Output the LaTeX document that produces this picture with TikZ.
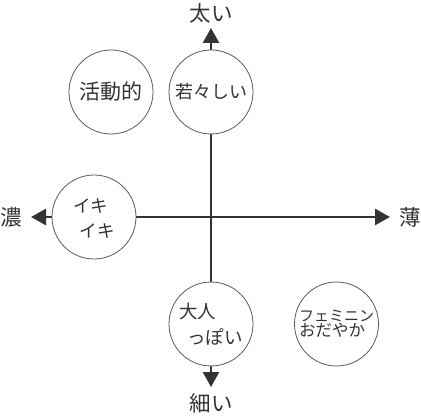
\documentclass[tikz,border=0pt]{standalone}
\usepackage{fontspec}
\setmainfont{Noto Sans CJK JP}
\usetikzlibrary{arrows.meta}
\definecolor{ink}{HTML}{333333}
\definecolor{ring}{HTML}{5A5A5A}
\begin{document}
\begin{tikzpicture}[x=1pt,y=-1pt,
  bubble/.style={circle,draw=ring,line width=0.8pt,fill=white,minimum size=84pt,inner sep=0pt},
  lbl/.style={text=ink,inner sep=0pt,align=left},
  axislbl/.style={text=ink,inner sep=0pt,font=\fontsize{21.5}{24}\selectfont},
  axis/.style={draw=ink,line width=2.6pt,{Triangle[width=16pt,length=15pt]}-{Triangle[width=16pt,length=15pt]}}]
\useasboundingbox (0,0) rectangle (421,417);
% axis ends
\coordinate (top) at (211,28);
\coordinate (bottom) at (211,387);
\coordinate (left) at (31,217);
\coordinate (right) at (390,217);
\draw[axis] (bottom) -- (top);
\draw[axis] (left) -- (right);
% axis labels
\node[axislbl] (futoi) at (211,13) {太い};
\node[axislbl] (hosoi) at (211,403) {細い};
\node[axislbl] (koi) at (11.5,217) {濃};
\node[axislbl] (usui) at (410,217) {薄};
% bubbles
\node[bubble] (katsu) at (111,92) {};
\node[bubble] (waka) at (211,92) {};
\node[bubble] (iki) at (94,217) {};
\node[bubble] (otona) at (211,324) {};
\node[bubble] (femi) at (336.5,324) {};
% bubble texts
\node[lbl,font=\fontsize{21}{24}\selectfont] (t1) at (katsu.center) {活動的};
\node[lbl,font=\fontsize{18}{24}\selectfont] (t2) at (waka.center) {若々しい};
\node[lbl,font=\fontsize{17.5}{25}\selectfont] (t3) at ([yshift=-1.5pt]iki.center) {イキ\\\hspace*{6pt}イキ};
\node[lbl,font=\fontsize{18.5}{26}\selectfont] (t4) at (otona.center) {大人\\\hspace*{8pt}っぽい};
\node[lbl] (t5) at (femi.center) {{\fontsize{15}{22}\selectfont フェミニン}\\{\fontsize{16.5}{22}\selectfont おだやか}};
\end{tikzpicture}
\end{document}
